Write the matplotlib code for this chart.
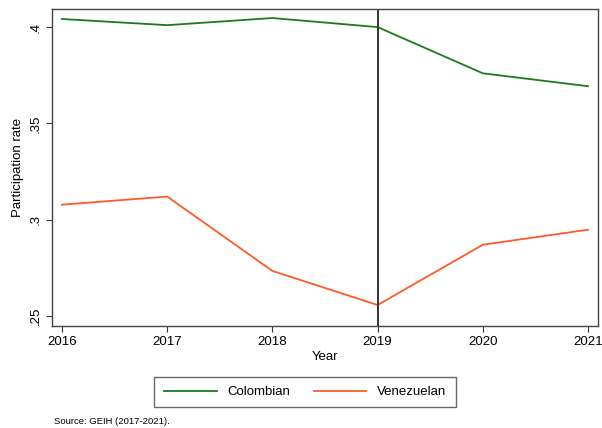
import matplotlib
matplotlib.use("Agg")
from matplotlib import pyplot as plt

years = [2016, 2017, 2018, 2019, 2020, 2021]
colombian = [0.4042, 0.4010, 0.4047, 0.4000, 0.3760, 0.3693]
venezuelan = [0.3078, 0.3120, 0.2734, 0.2557, 0.2870, 0.2948]
yticks = [0.25, 0.3, 0.35, 0.4]
ytick_labels = [".25", ".3", ".35", ".4"]

plt.rcParams['font.family'] = ['Liberation Sans', 'DejaVu Sans']
fig = plt.figure(figsize=(6.02, 4.28), dpi=100)
ax = fig.add_axes([0.0864, 0.2383, 0.907, 0.7407])

ax.plot(years, colombian, color='#1b7a1b', lw=1.3, label='Colombian')
ax.plot(years, venezuelan, color='#ff5a2a', lw=1.3, label='Venezuelan')
ax.axvline(2019, color='#333333', lw=1.4)

ax.set_xlim(2015.905, 2021.095)
ax.set_ylim(0.2448, 0.4094)
ax.set_xticks(years)
ax.set_yticks(yticks)
ax.set_yticklabels(ytick_labels, rotation=90, va='center')
ax.tick_params(labelsize=9.5, length=4, color='#333333')
ax.set_xlabel("Year", fontsize=9.5, labelpad=2)
ax.set_ylabel("Participation rate", fontsize=9.5, labelpad=4)
for s in ax.spines.values():
    s.set_color('#444444')
    s.set_linewidth(1.0)

fig.legend(loc='center', bbox_to_anchor=(305/602, 1-392/428), ncol=2, fontsize=9.5,
           frameon=True, fancybox=False, edgecolor='#444444', handlelength=4,
           columnspacing=1.8, borderpad=0.7, handletextpad=0.8)
fig.text(54/602, 1-421/428, "Source: GEIH (2017-2021).", fontsize=6.8, va='center')

fig.savefig("out.png", dpi=100)
